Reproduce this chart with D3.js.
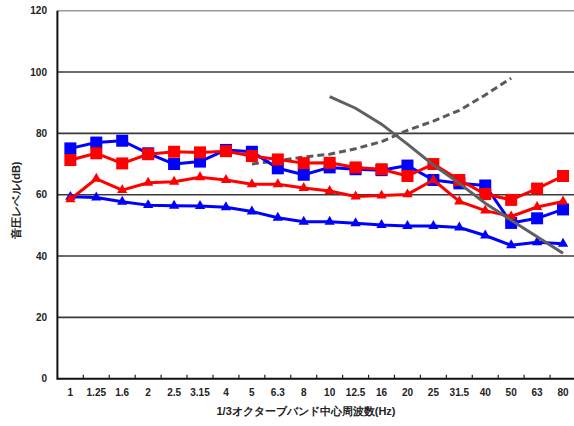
<!DOCTYPE html>
<html><head><meta charset="utf-8">
<script src="https://cdn.jsdelivr.net/npm/d3@7"></script>
<style>
html,body{margin:0;padding:0;background:#fff;overflow:hidden;}
text{font-family:"Liberation Sans",Arial,sans-serif;}
</style></head>
<body>
<svg id="chart" width="574" height="426"></svg>
<script>
const freqLabels = ["1","1.25","1.6","2","2.5","3.15","4","5","6.3","8","10","12.5","16","20","25","31.5","40","50","63","80"];
const yTicks = [0,20,40,60,80,100,120];
const blueSquare = [75.1,77.0,77.6,73.5,70.0,70.8,74.6,74.0,68.6,66.5,68.9,68.3,68.0,69.5,64.8,63.7,63.0,50.8,52.3,55.2];
const redSquare  = [71.3,73.5,70.2,73.2,74.0,73.8,74.2,72.6,71.5,70.3,70.4,68.9,68.3,66.1,70.0,64.8,60.2,58.3,62.0,66.1];
const redTriangle  = [58.5,65.2,61.5,63.9,64.2,65.7,64.8,63.4,63.4,62.2,61.2,59.4,59.7,60.1,64.8,57.8,54.8,52.9,56.0,57.8];
const blueTriangle = [59.3,59.1,57.7,56.6,56.4,56.3,55.9,54.5,52.5,51.2,51.2,50.7,50.1,49.8,49.8,49.3,46.7,43.5,44.5,44.0];
const grayCurve = [null,null,null,null,null,null,null,null,null,null,92.0,88.2,83.0,76.5,69.7,63.7,57.2,51.7,46.3,40.9];
const grayDashed = [null,null,null,null,null,null,null,70.0,71.1,72.3,73.2,75.0,77.3,81.0,84.0,87.5,92.5,98.0,null,null];
const yTitle = "音圧レベル(dB)";
const xTitle = "1/3オクターブバンド中心周波数(Hz)";

const svg = d3.select("#chart");
const pLeft = 57.4, pRight = 576, pTop = 10.7, pBottom = 378.7;
const x = d3.scaleBand().domain(freqLabels).range([pLeft, pRight]).padding(0);
const y = d3.scaleLinear().domain([0,120]).range([pBottom, pTop]);
const cx = i => x(freqLabels[i]) + x.bandwidth()/2;

// gridlines
svg.append("g").selectAll("line").data(yTicks.filter(v => v > 0)).join("line")
  .attr("x1", pLeft).attr("x2", pRight)
  .attr("y1", d => y(d)).attr("y2", d => y(d))
  .attr("stroke", d => d === 120 ? "#9a9a9a" : "#3a3a3a")
  .attr("stroke-width", 1.6);

// y tick labels
svg.append("g").selectAll("text").data(yTicks).join("text")
  .attr("x", 47).attr("y", d => y(d) + 3.5)
  .attr("text-anchor", "end")
  .attr("font-size", 10).attr("font-weight", "bold").attr("fill", "#222")
  .text(d => d);

// x axis labels
const xAxis = d3.axisBottom(x).tickSize(0).tickPadding(10);
const gx = svg.append("g").attr("transform", `translate(0,${pBottom})`).call(xAxis);
gx.select(".domain").remove();
gx.selectAll("text").attr("font-size", 10).attr("font-weight", "bold").attr("fill", "#222")
  .attr("font-family", "'Liberation Sans',Arial,sans-serif");

// x boundary ticks (inward)
svg.append("g").selectAll("line").data(freqLabels.slice(1)).join("line")
  .attr("x1", d => x(d)).attr("x2", d => x(d))
  .attr("y1", pBottom).attr("y2", pBottom - 4)
  .attr("stroke", "#222").attr("stroke-width", 1.2);

// axes lines
svg.append("line").attr("x1", pLeft).attr("x2", pLeft).attr("y1", pTop).attr("y2", pBottom + 1)
  .attr("stroke", "#111").attr("stroke-width", 2);
svg.append("line").attr("x1", pLeft).attr("x2", pRight).attr("y1", pBottom).attr("y2", pBottom)
  .attr("stroke", "#111").attr("stroke-width", 2);

const line = d3.line().defined(d => d != null).x((d,i) => cx(i)).y(d => y(d));

// dashed gray
svg.append("path").datum(grayDashed).attr("d", line)
  .attr("fill", "none").attr("stroke", "#5a5a5a").attr("stroke-width", 3).attr("stroke-dasharray", "7,4");

function series(data, color, shape) {
  svg.append("path").datum(data).attr("d", line)
    .attr("fill", "none").attr("stroke", color).attr("stroke-width", 3).attr("stroke-linejoin", "round");
  const sym = shape === "square" ? d3.symbol().type(d3.symbolSquare).size(144)
                                 : d3.symbol().type(d3.symbolTriangle).size(46);
  svg.append("g").selectAll("path").data(data).join("path")
    .attr("d", sym)
    .attr("transform", (d,i) => `translate(${cx(i)},${y(d)})`)
    .attr("fill", color);
}
series(blueTriangle, "#0000ff", "tri");
series(blueSquare, "#0000ff", "square");
series(redTriangle, "#ff0000", "tri");
series(redSquare, "#ff0000", "square");

// solid gray
svg.append("path").datum(grayCurve).attr("d", line)
  .attr("fill", "none").attr("stroke", "#5f5f5f").attr("stroke-width", 3);

// titles
svg.append("text").attr("transform", "translate(20,200) rotate(-90)")
  .attr("text-anchor", "middle").attr("font-size", 11).attr("font-weight", "bold")
  .attr("font-family", "'Noto Sans CJK JP',sans-serif").attr("fill", "#222")
  .text(yTitle);
svg.append("text").attr("x", 306).attr("y", 415)
  .attr("text-anchor", "middle").attr("font-size", 11).attr("font-weight", "bold")
  .attr("font-family", "'Noto Sans CJK JP',sans-serif").attr("fill", "#222")
  .text(xTitle);
</script>
</body></html>
